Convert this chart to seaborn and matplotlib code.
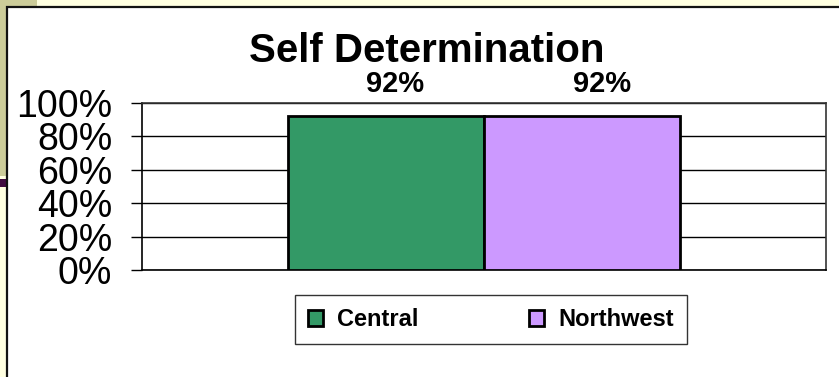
import matplotlib
matplotlib.use("Agg")
import matplotlib.pyplot as plt
from matplotlib.patches import Rectangle
from matplotlib.ticker import PercentFormatter
import seaborn as sns
import pandas as pd

# Chart data
title = "Self Determination"
regions = ["Central", "Northwest"]
shares = [0.92, 0.92]
region_colors = ["#339966", "#CC99FF"]
y_ticks = [0.0, 0.2, 0.4, 0.6, 0.8, 1.0]

df = pd.DataFrame({"group": ["all"] * len(regions), "region": regions, "share": shares})

sns.set_theme(style="white")
plt.rcParams["font.family"] = ["Liberation Sans", "DejaVu Sans"]
plt.rcParams["text.color"] = "black"

W, H = 839, 377
fig = plt.figure(figsize=(W / 100, H / 100), dpi=100, facecolor="#FFFFE0")


def fx(px):
    return px / W


def fy(py):
    return 1 - py / H


# Slide decoration behind the chart
fig.add_artist(Rectangle((0, fy(176)), fx(37), 176 / H, transform=fig.transFigure,
                         facecolor="#CCCC99", edgecolor="none", zorder=-5))
fig.add_artist(Rectangle((0, fy(187)), fx(6), 8 / H, transform=fig.transFigure,
                         facecolor="#400A40", edgecolor="none", zorder=-4))
# White chart frame
fig.add_artist(Rectangle((fx(6.5), -0.1), 1.2, fy(6.5) + 0.1, transform=fig.transFigure,
                         facecolor="white", edgecolor="#111111", linewidth=1.6, zorder=-3))

ax = fig.add_axes([fx(142), fy(270), fx(826) - fx(142), (270 - 103) / H])
ax.set_facecolor("white")

sns.barplot(data=df, x="group", y="share", hue="region", palette=region_colors,
            width=0.573, edgecolor="black", linewidth=2, saturation=1, ax=ax, zorder=3)

ax.set_xlim(-0.5, 0.5)
ax.set_ylim(0, 1)
ax.set_yticks(y_ticks)
ax.yaxis.set_major_formatter(PercentFormatter(1.0, decimals=0))
ax.set_xticks([])
ax.set_xlabel("")
ax.set_ylabel("")
ax.grid(axis="y", color="black", linewidth=1, zorder=0)
ax.set_axisbelow(True)
for side in ["left", "bottom"]:
    ax.spines[side].set_color("black")
    ax.spines[side].set_linewidth(1.2)
for side in ["top", "right"]:
    ax.spines[side].set_color("#333333")
    ax.spines[side].set_linewidth(1.2)
    ax.spines[side].set_visible(True)
ax.tick_params(axis="y", which="major", left=True, length=8, width=1, color="black",
               pad=13.5, labelsize=27, labelcolor="black")

# Value labels above each bar
label_shift = [6.5, 14.5]
for container, shift in zip(ax.containers, label_shift):
    for bar in container:
        val = bar.get_height()
        ax.annotate(f"{val * 100:.0f}%", xy=(bar.get_x() + bar.get_width() / 2, val),
                    xytext=(shift, 13), textcoords="offset points", ha="center", va="bottom",
                    fontsize=21, fontweight="bold", color="black")

handles, labels = ax.get_legend_handles_labels()
if ax.get_legend() is not None:
    ax.get_legend().remove()
for h in handles:
    h.set_linewidth(2)
    h.set_edgecolor("black")
leg = fig.legend(handles, labels, loc="lower left", mode="expand",
                 bbox_to_anchor=(fx(295), fy(344), fx(687) - fx(295), 52 / H),
                 ncol=2, frameon=True, fancybox=False, shadow=False,
                 prop={"size": 17, "weight": "bold"}, labelcolor="black",
                 handlelength=0.65, handleheight=0.65,
                 handletextpad=0.6, columnspacing=1.1, borderpad=0.55, borderaxespad=0)
leg.get_frame().set_edgecolor("black")
leg.get_frame().set_linewidth(1)

fig.text(fx(427), fy(62), title, ha="center", va="baseline", fontsize=29,
         fontweight="bold", color="black")

fig.savefig("out.png", dpi=100, facecolor=fig.get_facecolor())
